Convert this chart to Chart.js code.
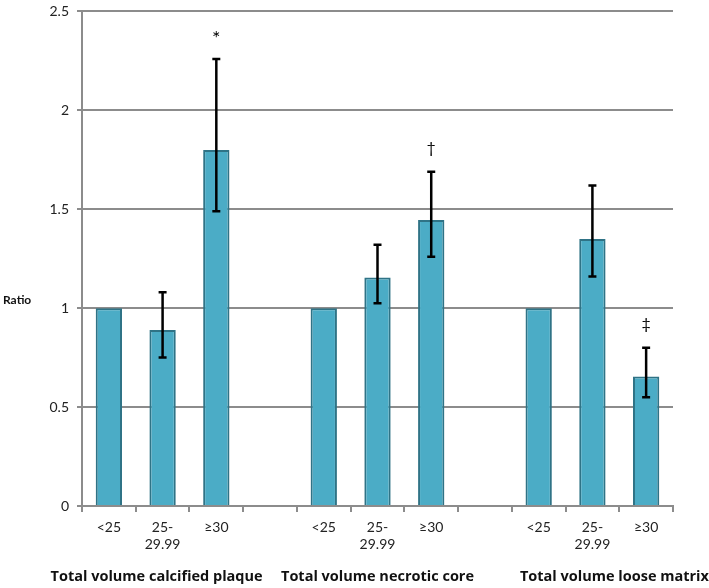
<!DOCTYPE html>
<html>
<head>
<meta charset="utf-8">
<script src="https://cdn.jsdelivr.net/npm/chart.js@4"></script>
<style>
  html, body { margin: 0; padding: 0; background: #fff; overflow: hidden; }
  #wrap { width: 709px; height: 593px; position: relative; margin-top: -5px; }
</style>
</head>
<body>
<div id="wrap"><canvas id="ratioChart"></canvas></div>
<script>
// bmi categories per group, with empty slots between groups
const categories = ['<25', ['25-', '29.99'], '≥30', '', '<25', ['25-', '29.99'], '≥30', '', '<25', ['25-', '29.99'], '≥30'];
const ratios   = [1, 0.89, 1.80, null, 1, 1.155, 1.445, null, 1, 1.35, 0.655];
const errLow   = [null, 0.75, 1.49, null, null, 1.025, 1.26, null, null, 1.16, 0.55];
const errHigh  = [null, 1.08, 2.26, null, null, 1.32, 1.69, null, null, 1.62, 0.80];
const marks    = ['', '', '*', '', '', '', '†', '', '', '', '‡'];
const groupTitles = ['Total volume calcified plaque', 'Total volume necrotic core', 'Total volume loose matrix'];
const groupSlots  = [1, 5, 9];
const yTicks = [0, 0.5, 1, 1.5, 2, 2.5];

const fontFam = 'Lato, "Open Sans", sans-serif';
const titleFam = '"Open Sans", Lato, sans-serif';

// error bars + significance marks + group titles
const extras = {
  id: 'extras',
  afterDatasetsDraw(chart) {
    const ctx = chart.ctx;
    const x = chart.scales.x, y = chart.scales.y;
    ctx.save();
    ctx.strokeStyle = '#000';
    ctx.lineWidth = 2.5;
    ratios.forEach((v, i) => {
      if (errLow[i] == null) return;
      const px = x.getPixelForValue(i);
      const yl = y.getPixelForValue(errLow[i]);
      const yh = y.getPixelForValue(errHigh[i]);
      ctx.beginPath();
      ctx.moveTo(px, yl); ctx.lineTo(px, yh);
      ctx.moveTo(px - 4, yl); ctx.lineTo(px + 4, yl);
      ctx.moveTo(px - 4, yh); ctx.lineTo(px + 4, yh);
      ctx.stroke();
    });
    ctx.fillStyle = '#000';
    ctx.textAlign = 'center';
    ctx.textBaseline = 'middle';
    marks.forEach((m, i) => {
      if (!m) return;
      const px = x.getPixelForValue(i);
      const yh = y.getPixelForValue(errHigh[i]);
      ctx.font = (m === '*' ? '20px ' : '16px ') + fontFam;
      ctx.fillText(m, px, yh - (m === '*' ? 20 : 24));
    });
    ctx.font = 'bold 14.5px ' + titleFam;
    ctx.fillStyle = '#111';
    const shift = [-6, 0, 22];
    groupTitles.forEach((t, g) => {
      ctx.fillText(t, x.getPixelForValue(groupSlots[g]) + shift[g], 582);
    });
    ctx.font = 'bold 12px ' + fontFam;
    ctx.textAlign = 'left';
    ctx.fillText('Ratio', 3, 305);
    ctx.restore();
  }
};

new Chart(document.getElementById('ratioChart'), {
  type: 'bar',
  data: {
    labels: categories,
    datasets: [{
      data: ratios,
      backgroundColor: '#4bacc6',
      borderColor: '#2f7386',
      borderWidth: 2,
      barPercentage: 0.49,
      categoryPercentage: 1
    }]
  },
  options: {
    responsive: true,
    maintainAspectRatio: false,
    animation: false,
    layout: { padding: { top: 0, right: 36, left: 0, bottom: 0 } },
    plugins: { legend: { display: false }, tooltip: { enabled: false } },
    scales: {
      x: {
        grid: { display: true, drawOnChartArea: false, drawTicks: true, tickLength: 6, color: '#8c8c8c', lineWidth: 2 },
        border: { color: '#8c8c8c', width: 2 },
        ticks: { color: '#222', font: { family: fontFam, size: 14 }, padding: 7, maxRotation: 0, autoSkip: false },
        afterFit: s => { s.height = 82; }
      },
      y: {
        min: 0, max: 2.5,
        afterBuildTicks: s => { s.ticks = yTicks.map(v => ({ value: v })); },
        grid: { color: '#8c8c8c', lineWidth: 2, tickLength: 5 },
        border: { color: '#8c8c8c', width: 2 },
        ticks: { color: '#222', font: { family: fontFam, size: 14 }, padding: 8, callback: v => String(v) },
        afterFit: s => { s.width = 82; }
      }
    }
  },
  plugins: [extras]
});
</script>
</body>
</html>
